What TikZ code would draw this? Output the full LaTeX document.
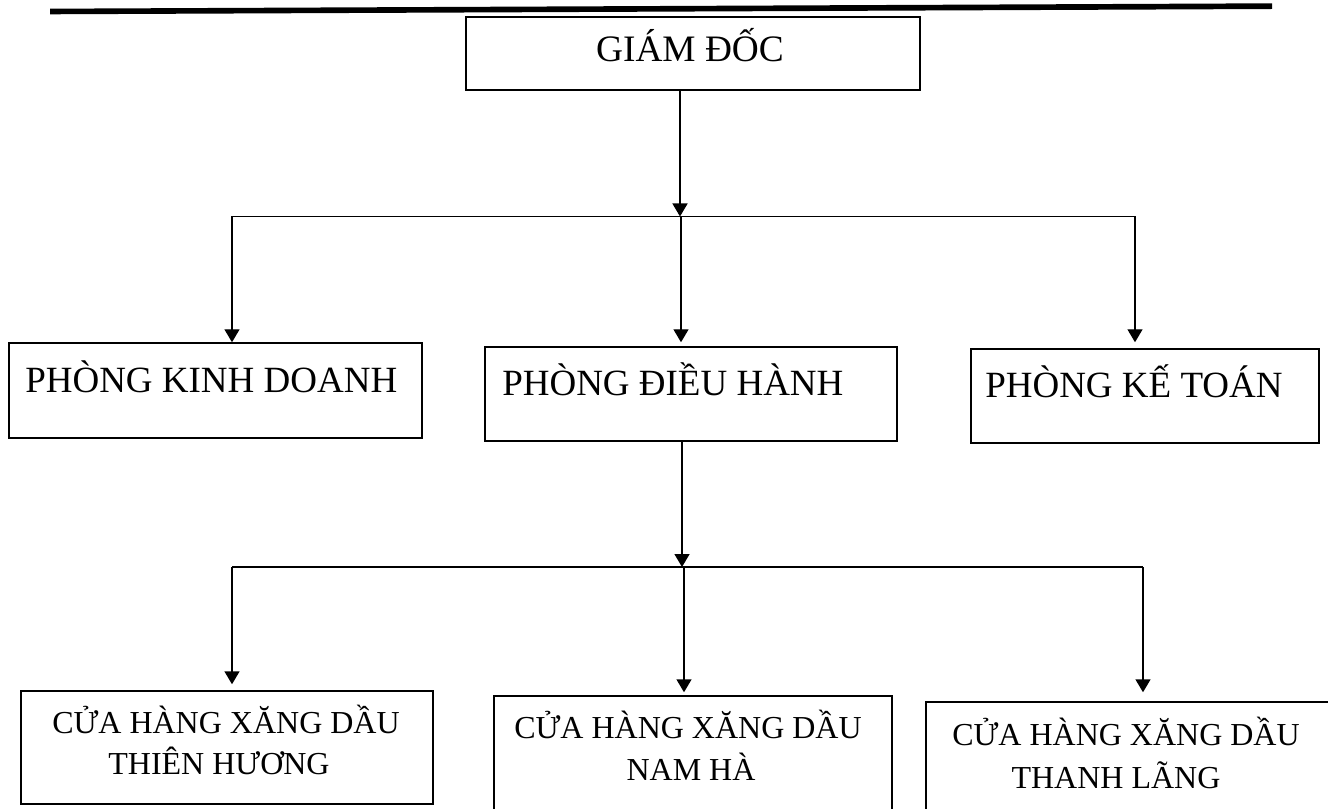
\documentclass[tikz,border=0pt]{standalone}
\usepackage{fontspec}
\setmainfont{Liberation Serif}
\usetikzlibrary{arrows.meta}
\begin{document}
\begin{tikzpicture}[x=0.75pt, y=-0.75pt,
  box/.style={draw, line width=1.1pt, inner sep=0pt, rectangle},
  lbl/.style={inner sep=0pt, anchor=base},
  lblw/.style={inner sep=0pt, anchor=base west},
  big/.style={font=\fontsize{27.75}{33}\selectfont},
  small/.style={font=\fontsize{24}{29}\selectfont},
  conn/.style={line width=1.1pt},
  arr/.style={line width=1.1pt, -{Triangle[width=11.25pt, length=9.75pt]}}]
\useasboundingbox (0,0) rectangle (1328,809);
\clip (0,0) rectangle (1328,809);

% heading rule
\fill (50,8.7) -- (1272,3.3) -- (1272,9) -- (50,14.3) -- cycle;

% boxes
\node[box, minimum width=454*0.75pt, minimum height=73*0.75pt] (gd) at (693,53.5) {};
\node[box, minimum width=413*0.75pt, minimum height=95*0.75pt] (kd) at (215.5,390.5) {};
\node[box, minimum width=412*0.75pt, minimum height=94*0.75pt] (dh) at (691,394) {};
\node[box, minimum width=348*0.75pt, minimum height=94*0.75pt] (kt) at (1145,396) {};
\node[box, minimum width=412*0.75pt, minimum height=113*0.75pt] (th) at (227,747.5) {};
\node[box, minimum width=398*0.75pt, minimum height=124*0.75pt] (nh) at (693,758) {};
\node[box, minimum width=420*0.75pt, minimum height=118*0.75pt] (tl) at (1136,761) {};

% texts
\node[lbl, font=\fontsize{28}{33}\selectfont] (gdt) at (690,62) {GIÁM ĐỐC};
\node[lblw, big] (kdt) at (25,392) {PHÒNG KINH DOANH};
\node[lblw, big] (dht) at (502,395) {PHÒNG ĐIỀU HÀNH};
\node[lblw, big] (ktt) at (985,397) {PHÒNG KẾ TOÁN};
\node[lbl, small] (tha) at (226,733) {CỬA HÀNG XĂNG DẦU};
\node[lbl, small] (thb) at (219,774) {THIÊN HƯƠNG};
\node[lbl, small] (nha) at (688,738) {CỬA HÀNG XĂNG DẦU};
\node[lbl, small] (nhb) at (691,780) {NAM HÀ};
\node[lbl, small] (tla) at (1126,745) {CỬA HÀNG XĂNG DẦU};
\node[lbl, small] (tlb) at (1116,788) {THANH LÃNG};

% first level connectors
\coordinate (j1) at (680,216.5);
\coordinate (b1l) at (232,216.5);
\coordinate (b1m) at (681,216.5);
\coordinate (b1r) at (1135,216.5);
\draw[arr] (gd.south -| j1) -- (j1);
\draw[conn] (b1l) -- (b1r);
\draw[arr] (b1l) -- (kd.north -| b1l);
\draw[arr, shorten >=3pt] (b1m) -- (dh.north -| b1m);
\draw[arr, shorten >=4.5pt] (b1r) -- (kt.north -| b1r);

% second level connectors
\coordinate (j2) at (682,567);
\coordinate (b2l) at (232,567);
\coordinate (b2m) at (684,567);
\coordinate (b2r) at (1143,567);
\draw[arr] (dh.south -| j2) -- (j2);
\draw[conn] (b2l) -- (b2r);
\draw[arr, shorten >=4.5pt] (b2l) -- (th.north -| b2l);
\draw[arr, shorten >=2.25pt] (b2m) -- (nh.north -| b2m);
\draw[arr, shorten >=6.75pt] (b2r) -- (tl.north -| b2r);
\end{tikzpicture}
\end{document}
